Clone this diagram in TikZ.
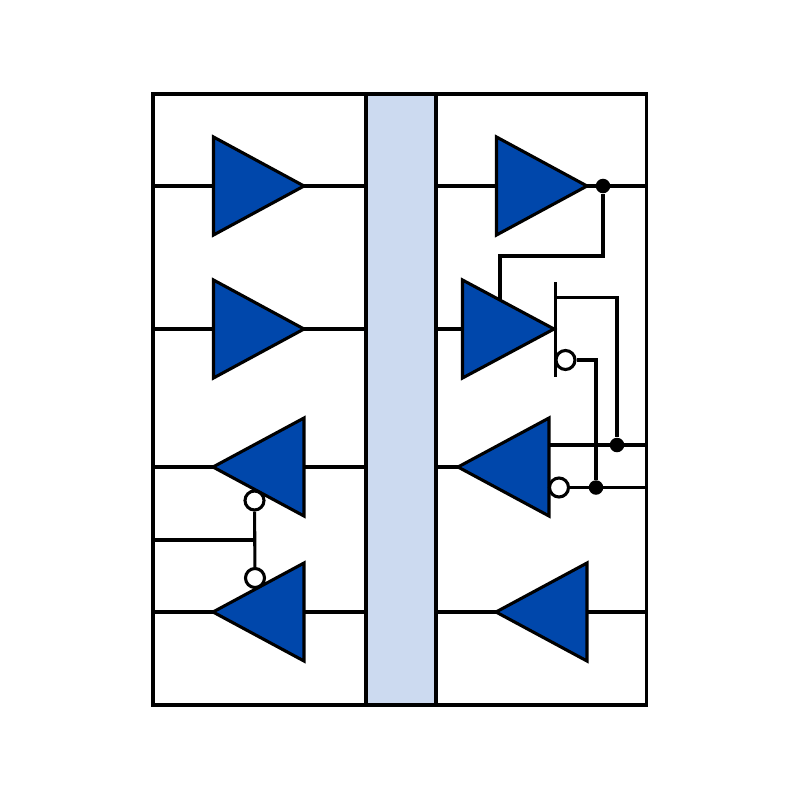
\documentclass[tikz,border=0pt]{standalone}
\usepackage{tikz}
\definecolor{bufblue}{RGB}{0,71,171}
\definecolor{barblue}{RGB}{204,218,240}
\tikzset{
  wire/.style={line width=0.88pt,line join=miter},
  buf/.style={wire,fill=bufblue},
  bubble/.style={circle,draw,fill=white,line width=0.88pt,inner sep=0pt,minimum size=0.19cm},
  dot/.style={circle,fill,inner sep=0pt,minimum size=0.145cm}
}
\begin{document}
\begin{tikzpicture}[x=0.01cm,y=-0.01cm]
\useasboundingbox (0,0) rectangle (800,800);
% pins of the buffers
\coordinate (tl) at (213.5,186);
\coordinate (tr) at (304,186);
\coordinate (ml) at (213.5,329);
\coordinate (mr) at (304,329);
\coordinate (nl) at (213,467);
\coordinate (nr) at (304,467);
\coordinate (ll) at (213,612);
\coordinate (lr) at (304,612);
\coordinate (Tl) at (496.5,186);
\coordinate (Tr) at (587,186);
\coordinate (Ml) at (462.5,329);
\coordinate (Mr) at (554,329);
\coordinate (Nl) at (458,467);
\coordinate (Nr) at (549,467);
\coordinate (Ll) at (496,612);
\coordinate (Lr) at (587,612);
% frame ends
\coordinate (w1) at (153,186);
\coordinate (w2) at (153,329);
\coordinate (w3) at (153,467);
\coordinate (w4) at (153,540);
\coordinate (w5) at (153,612);
\coordinate (e1) at (646.5,186);
\coordinate (e2) at (646.5,445);
\coordinate (e3) at (646.5,487.5);
\coordinate (e4) at (646.5,612);
\coordinate (j1) at (255,540);
\coordinate (sw) at (549,445);
\coordinate (fb) at (500,300);
\coordinate (gt) at (555.5,282);
\coordinate (gb) at (555.5,377);
\coordinate (gd) at (555.5,297.5);
% buffers
\draw[buf] (tl) ++(0,-49) -- ++(0,98) -- (tr) -- cycle;
\draw[buf] (ml) ++(0,-49) -- ++(0,98) -- (mr) -- cycle;
\draw[buf] (nr) ++(0,-49) -- ++(0,98) -- (nl) -- cycle;
\draw[buf] (lr) ++(0,-49) -- ++(0,98) -- (ll) -- cycle;
\draw[buf] (Tl) ++(0,-49) -- ++(0,98) -- (Tr) -- cycle;
\draw[buf] (Ml) ++(0,-49) -- ++(0,98) -- (Mr) -- cycle;
\draw[buf] (Nr) ++(0,-49) -- ++(0,98) -- (Nl) -- cycle;
\draw[buf] (Lr) ++(0,-49) -- ++(0,98) -- (Ll) -- cycle;
% bubbles and dots
\node (cl1) at (254.5,500.5) [bubble]{};
\node (cl2) at (255,578) [bubble]{};
\node (cr1) at (565.5,360) [bubble]{};
\node (cr2) at (559,487.5) [bubble]{};
\node (d1) at (603,186) [dot]{};
\node (d2) at (617,445) [dot]{};
\node (d3) at (596,487.5) [dot]{};
% wires
\draw[wire] (w1) -- (tl);
\draw[wire] (w2) -- (ml);
\draw[wire] (w3) -- (nl);
\draw[wire] (w5) -- (ll);
\draw[wire] (tr) -- (Tl);
\draw[wire] (mr) -- (Ml);
\draw[wire] (nr) -- (Nl);
\draw[wire] (lr) -- (Ll);
\draw[wire] (Tr) -- (e1);
\draw[wire] (Lr) -- (e4);
\draw[wire] (w4) -- (j1);
\draw[wire] (cl1) -- (cl2);
\draw[wire] (d1) |- (fb |- 0,256) -- (fb);
\draw[wire] (gt) -- (gb);
\draw[wire] (gd) -| (d2);
\draw[wire] (cr1) -| (d3);
\draw[wire] (sw) -- (e2);
\draw[wire] (cr2) -- (e3);
% frame and bar
\draw[wire,fill=barblue] (366,94) rectangle (436,705);
\draw[wire] (153,94) rectangle (646.5,705);
\end{tikzpicture}
\end{document}
